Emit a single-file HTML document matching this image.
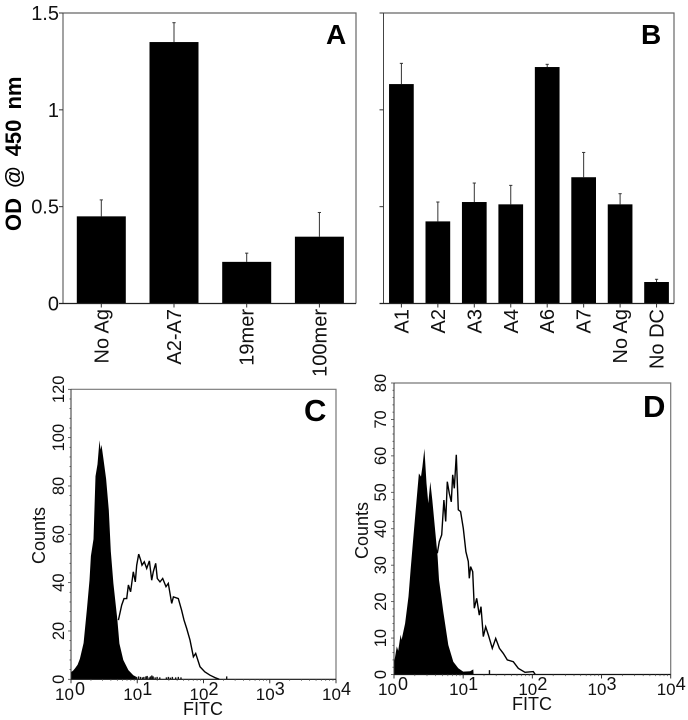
<!DOCTYPE html>
<html>
<head>
<meta charset="utf-8">
<title>ELISA and flow cytometry panels</title>
<style>
html,body{margin:0;padding:0;background:#fff;width:688px;height:720px;overflow:hidden}
svg{display:block;font-family:"Liberation Sans",sans-serif;fill:#111;filter:blur(0.3px)}
</style>
</head>
<body>
<svg id="figure" width="688" height="720" viewBox="0 0 688 720" xmlns="http://www.w3.org/2000/svg"></svg>
<script>
const panelACategories = ['No Ag', 'A2-A7', '19mer', '100mer'];
const panelAValues = [0.45, 1.35, 0.215, 0.345];
const panelAErrorTops = [0.535, 1.45, 0.26, 0.47];
const panelBCategories = ['A1', 'A2', 'A3', 'A4', 'A6', 'A7', 'No Ag', 'No DC'];
const panelBValues = [1.133, 0.424, 0.524, 0.512, 1.221, 0.652, 0.512, 0.111];
const panelBErrorTops = [1.24, 0.524, 0.622, 0.61, 1.235, 0.78, 0.567, 0.125];
const odTickLabels = ['0', '0.5', '1', '1.5'];
const odTickValues = [0, 0.5, 1, 1.5];

const panelCCountTicks = [0, 20, 40, 60, 80, 100, 120];
const panelDCountTicks = [0, 10, 20, 30, 40, 50, 60, 70, 80];
const fitcDecades = [0, 1, 2, 3, 4];

const panelCFilledLog = [0, 0.005, 0.03, 0.06, 0.1, 0.135, 0.19, 0.24, 0.28, 0.3, 0.34, 0.37, 0.4, 0.43, 0.445, 0.46, 0.49, 0.53, 0.57, 0.6, 0.64, 0.7, 0.73, 0.79, 0.866, 0.94, 1];
const panelCFilledCounts = [10, 3, 3.5, 4.5, 6, 8.5, 15, 29, 41, 51, 58, 84, 89, 99, 95, 97, 91, 83, 70, 53, 39.7, 24.5, 14.8, 8, 3.8, 1.7, 0.8];
const panelCOutlineLog = [0.715, 0.765, 0.8, 0.84, 0.866, 0.9, 0.941, 0.971, 0.991, 1.022, 1.052, 1.072, 1.107, 1.142, 1.183, 1.218, 1.243, 1.278, 1.303, 1.344, 1.384, 1.434, 1.469, 1.52, 1.545, 1.62, 1.67, 1.706, 1.746, 1.796, 1.847, 1.882, 1.947, 2.02, 2.098, 2.173, 2.239];
const panelCOutlineCounts = [24.5, 30.7, 33.4, 33.4, 39, 36.2, 44.5, 40.3, 47.2, 51.8, 49.3, 47.2, 48.6, 45.9, 49, 41, 44.5, 48, 41.7, 40.3, 41.7, 38.3, 39.7, 31.4, 34.1, 33.4, 28.6, 24.5, 21, 16.2, 9.3, 10.7, 5.2, 3.1, 1.7, 0.7, 0];
const panelCSpeckLog = [0.98, 1.02, 1.05, 1.08, 1.1, 1.13, 1.15, 1.18, 1.2, 1.22, 1.24, 1.27, 1.3, 1.34, 1.44, 1.47, 1.5, 1.53, 1.58, 1.62, 1.66, 2.35];
const panelCSpeckCounts = [1, 1.2, 1, 0.8, 1, 1.2, 1.4, 0.8, 1.2, 1.6, 1.2, 0.8, 1, 0.8, 0.8, 1, 0.7, 1, 0.8, 1, 0.8, 1.2];

const panelDFilledLog = [0, 0.04, 0.06, 0.096, 0.11, 0.16, 0.21, 0.24, 0.28, 0.31, 0.36, 0.39, 0.41, 0.44, 0.47, 0.496, 0.525, 0.554, 0.59, 0.63, 0.65, 0.713, 0.785, 0.857, 0.93, 1, 1.1, 1.147, 1.15];
const panelDFilledCounts = [3, 7.7, 6.5, 10.9, 9.5, 14, 21.4, 28.7, 37.8, 44.2, 55.2, 54.3, 57, 62, 52.5, 47, 52.9, 47.9, 40.6, 32.4, 26, 17.2, 8.1, 3.5, 1.7, 0.8, 0.9, 1.4, 0];
const panelDOutlineLog = [0.626, 0.655, 0.689, 0.722, 0.747, 0.771, 0.8, 0.828, 0.848, 0.872, 0.9, 0.93, 0.963, 1.002, 1.04, 1.074, 1.089, 1.108, 1.137, 1.161, 1.195, 1.233, 1.257, 1.291, 1.325, 1.364, 1.421, 1.47, 1.523, 1.58, 1.638, 1.725, 1.797, 1.894, 2.014, 2.043];
const panelDOutlineCounts = [33.3, 36.5, 38.3, 47.9, 42, 52.9, 49.7, 47.4, 54.8, 51.1, 60.3, 45.2, 44.7, 40.1, 33.7, 31, 26.4, 29.6, 28.2, 18.2, 20.9, 16.3, 18.6, 10.4, 13.1, 10.8, 7.2, 9.9, 7.2, 5.8, 4, 3.5, 1.7, 0.6, 0.8, 0];
const panelDSpeckLog = [1.38];
const panelDSpeckCounts = [1.2];

const svg = document.getElementById('figure');
const NS = 'http://www.w3.org/2000/svg';

function mk(tag, attrs, name, parent) {
  const el = document.createElementNS(NS, tag);
  for (const k in attrs) el.setAttribute(k, attrs[k]);
  
  
  (parent || svg).appendChild(el);
  return el;
}
function label(str, attrs, name, parent) {
  const el = mk('text', attrs, name, parent);
  el.textContent = str;
  return el;
}
function slug(s) { return s.toLowerCase().replace(/[^a-z0-9]+/g, '-'); }

function barPanel(opts) {
  const g = mk('g', {}, opts.id, svg);
  const y = v => opts.bottom - (v / 1.5) * (opts.bottom - opts.top);
  const x = i => opts.firstCenter + i * opts.step;
  mk('path', {d: `M${opts.left} ${opts.top}H${opts.right}V${opts.bottom}`, fill: 'none', stroke: '#666', 'stroke-width': 1.2}, 'plot-frame-top-right', g);
  mk('line', {x1: opts.left, x2: opts.left, y1: opts.top, y2: opts.bottom, stroke: '#444', 'stroke-width': 1}, 'y-axis-line', g);
  odTickValues.forEach((v, i) => {
    mk('line', {x1: opts.left - 4, x2: opts.left, y1: y(v), y2: y(v), stroke: '#333', 'stroke-width': 1}, 'y-tick', g);
    if (opts.showLabels) {
      label(odTickLabels[i], {x: 59, y: y(v) + 7, 'text-anchor': 'end', 'font-size': 20}, 'y-tick-label', g);
    }
  });
  opts.categories.forEach((c, i) => {
    const cx = x(i);
    mk('line', {x1: cx, x2: cx, y1: y(opts.errs[i]), y2: y(opts.values[i]), stroke: '#333', 'stroke-width': 1}, 'error-bar-' + slug(c), g);
    mk('line', {x1: cx - 1.6, x2: cx + 1.6, y1: y(opts.errs[i]), y2: y(opts.errs[i]), stroke: '#333', 'stroke-width': 1}, 'error-cap-' + slug(c), g);
    mk('rect', {x: cx - opts.barWidth / 2, y: y(opts.values[i]), width: opts.barWidth, height: opts.bottom - y(opts.values[i]), fill: '#000'}, 'bar-' + slug(c), g);
    mk('line', {x1: cx, x2: cx, y1: opts.bottom, y2: opts.bottom + 4, stroke: '#333', 'stroke-width': 1}, 'x-tick', g);
    const tx = cx + 7, ty = 309;
    label(c, {x: tx, y: ty, transform: `rotate(-90 ${tx} ${ty})`, 'text-anchor': 'end', 'font-size': 20}, 'x-tick-label-' + slug(c), g);
  });
  mk('line', {x1: opts.left - 4, x2: opts.right, y1: opts.bottom, y2: opts.bottom, stroke: '#222', 'stroke-width': 1.2}, 'x-axis-line', g);
  label(opts.letter, {x: opts.letterX, y: 44, 'font-size': 28, 'font-weight': 'bold', fill: '#000'}, 'panel-label-' + opts.letter.toLowerCase(), g);
}

barPanel({id: 'panel-a', left: 63, right: 356, top: 13, bottom: 303.5, firstCenter: 101.3, step: 72.7, barWidth: 49,
  categories: panelACategories, values: panelAValues, errs: panelAErrorTops, showLabels: true, letter: 'A', letterX: 326});
barPanel({id: 'panel-b', left: 383.5, right: 674, top: 13, bottom: 303.5, firstCenter: 401.4, step: 36.45, barWidth: 24.7,
  categories: panelBCategories, values: panelBValues, errs: panelBErrorTops, showLabels: false, letter: 'B', letterX: 641});
label('OD @ 450 nm', {x: 21, y: 231, transform: 'rotate(-90 21 231)', 'font-size': 22, 'font-weight': 'bold', 'word-spacing': 4, fill: '#000'}, 'y-axis-title', svg);

function histPanel(o) {
  const g = mk('g', {}, o.id, svg);
  const decadeW = (o.right - o.left) / 4;
  const x = l => o.left + l * decadeW;
  const y = c => o.bottom - (c / o.maxCount) * (o.bottom - o.top);
  mk('path', {d: `M${o.left} ${o.top}H${o.right}V${o.bottom}`, fill: 'none', stroke: '#777', 'stroke-width': 1.2}, 'plot-frame-top-right', g);

  let pts = o.outLog.map((l, i) => x(l).toFixed(1) + ',' + y(o.outCounts[i]).toFixed(1)).join(' ');
  mk('polyline', {points: pts, fill: 'none', stroke: '#000', 'stroke-width': 1.4}, 'stained-histogram-outline', g);

  let d = `M${x(o.fillLog[0]).toFixed(1)} ${o.bottom}`;
  o.fillLog.forEach((l, i) => { d += `L${x(l).toFixed(1)} ${y(o.fillCounts[i]).toFixed(1)}`; });
  d += `L${x(o.fillLog[o.fillLog.length - 1]).toFixed(1)} ${o.bottom}Z`;
  mk('path', {d: d, fill: '#000'}, 'control-histogram-filled', g);

  o.speckLog.forEach((l, i) => {
    mk('line', {x1: x(l), x2: x(l), y1: o.bottom, y2: y(o.speckCounts[i]), stroke: '#111', 'stroke-width': 1.4}, 'histogram-speck', g);
  });

  mk('line', {x1: o.left, x2: o.left, y1: o.top, y2: o.bottom, stroke: '#333', 'stroke-width': 1}, 'y-axis-line', g);
  mk('line', {x1: o.left, x2: o.right, y1: o.bottom, y2: o.bottom, stroke: '#111', 'stroke-width': 1.2}, 'x-axis-line', g);

  const minorStep = o.yTicks[1] / 5;
  for (let c = 0; c <= o.maxCount + 0.001; c += minorStep) {
    const major = Math.abs(c / o.yTicks[1] - Math.round(c / o.yTicks[1])) < 0.001;
    mk('line', {x1: o.left - (major ? 3 : 1.5), x2: o.left, y1: y(c), y2: y(c), stroke: '#444', 'stroke-width': 0.8}, 'y-tick', g);
  }
  o.yTicks.forEach(t => {
    const ty = y(t);
    label(String(t), {x: o.yLabelX, y: ty, transform: `rotate(-90 ${o.yLabelX} ${ty})`, 'text-anchor': 'middle', 'font-size': 16.5}, 'y-tick-label-' + t, g);
  });
  o.decades.forEach((dec, i) => {
    mk('line', {x1: x(dec), x2: x(dec), y1: o.bottom, y2: o.bottom + 4, stroke: '#333', 'stroke-width': 1}, 'x-tick', g);
    if (i < o.decades.length - 1) {
      for (let m = 2; m < 10; m++) {
        const tx = x(dec + Math.log10(m));
        mk('line', {x1: tx, x2: tx, y1: o.bottom, y2: o.bottom + 1.6, stroke: '#555', 'stroke-width': 0.7}, 'x-minor-tick', g);
      }
    }
    const base = x(dec) + (dec === 0 ? -16 : -14);
    label('10', {x: base, y: o.xBase, 'font-size': 17}, 'x-tick-label-base-' + dec, g);
    label(String(dec), {x: x(dec) + (dec === 0 ? 4 : 5), y: o.xBase - 5, 'font-size': 18}, 'x-tick-label-exponent-' + dec, g);
  });
  label('FITC', {x: o.fitcX, y: o.fitcY, 'font-size': 18}, 'x-axis-title', g);
  label('Counts', {x: o.countsX, y: o.countsY, transform: `rotate(-90 ${o.countsX} ${o.countsY})`, 'font-size': 18}, 'y-axis-title', g);
  label(o.letter, {x: o.letterX, y: o.letterY, 'font-size': 31, 'font-weight': 'bold', fill: '#000'}, 'panel-label-' + o.letter.toLowerCase(), g);
}

histPanel({id: 'panel-c', left: 71, right: 336, top: 389.3, bottom: 679.3, maxCount: 120, yTicks: panelCCountTicks, decades: fitcDecades,
  fillLog: panelCFilledLog, fillCounts: panelCFilledCounts, outLog: panelCOutlineLog, outCounts: panelCOutlineCounts,
  speckLog: panelCSpeckLog, speckCounts: panelCSpeckCounts,
  yLabelX: 64, xBase: 700, fitcX: 183, fitcY: 715, countsX: 45, countsY: 564, letter: 'C', letterX: 304, letterY: 421});
histPanel({id: 'panel-d', left: 394, right: 670.7, top: 383, bottom: 674.5, maxCount: 80, yTicks: panelDCountTicks, decades: fitcDecades,
  fillLog: panelDFilledLog, fillCounts: panelDFilledCounts, outLog: panelDOutlineLog, outCounts: panelDOutlineCounts,
  speckLog: panelDSpeckLog, speckCounts: panelDSpeckCounts,
  yLabelX: 386, xBase: 695, fitcX: 512, fitcY: 710, countsX: 368, countsY: 559, letter: 'D', letterX: 643, letterY: 417});
</script>
</body>
</html>
